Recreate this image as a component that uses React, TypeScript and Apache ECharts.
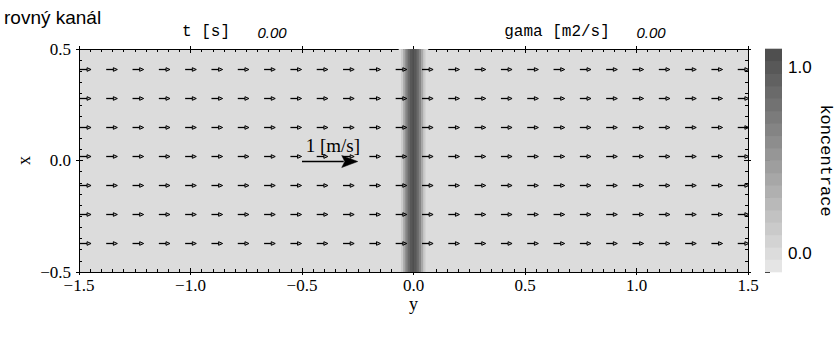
import React, { useEffect, useRef } from 'react';
import * as echarts from 'echarts';

// ---------- texts ----------
const TITLE = 'rovný kanál';
const TIME_LABEL = 't [s]';
const TIME_VALUE = '0.00';
const GAMMA_LABEL = 'gama [m2/s]';
const GAMMA_VALUE = '0.00';
const COLORBAR_NAME = 'koncentrace';
const REF_LABEL = '1 [m/s]';
const H_AXIS_NAME = 'y';
const V_AXIS_NAME = 'x';

// ---------- axes ----------
const hRange = [-1.5, 1.5];
const vRange = [-0.5, 0.5];
const cRange = [-0.1, 1.1];
const colorbarLabelValues = [0.0, 1.0];

// ---------- velocity field (arrow tails) ----------
const arrowColumns = [
  -1.496, -1.378, -1.26, -1.142, -1.024, -0.906, -0.788, -0.67, -0.552, -0.434,
  -0.316, -0.198, -0.08, 0.038, 0.156, 0.274, 0.392, 0.51, 0.628, 0.746,
  0.864, 0.982, 1.1, 1.218, 1.336, 1.454,
];
const arrowRows = [0.409, 0.279, 0.149, 0.019, -0.11, -0.24, -0.369];
const rowSpeeds = [0.2, 0.2, 0.2, 0.2, 0.2, 0.2, 0.2]; // m/s
const refArrowPos = [-0.5, 0.0];
const refArrowSpeed = 1.0; // m/s

// ---------- concentration profile across the channel ----------
const profileY = [-0.06, -0.05, -0.04, -0.03, -0.02, -0.01, 0.0, 0.01, 0.02, 0.03, 0.04, 0.05, 0.06];
const profileC = [0.03, 0.14, 0.38, 0.64, 0.88, 1.02, 1.07, 1.02, 0.88, 0.64, 0.38, 0.14, 0.03];

// ---------- colour bar levels ----------
const levelEdges = [
  -0.1, -0.033, 0.033, 0.1, 0.167, 0.233, 0.3, 0.367, 0.433, 0.5,
  0.567, 0.633, 0.7, 0.767, 0.833, 0.9, 0.967, 1.033, 1.1,
];

const VEL_SCALE = 0.25; // data units per m/s
const SERIF = '"Liberation Serif", serif';
const MONO = '"Liberation Mono", monospace';
const SANS = '"Liberation Sans", sans-serif';

function grayFor(c: number): string {
  let g = Math.round(220 - 132 * c);
  g = Math.max(0, Math.min(255, g));
  return `rgb(${g},${g},${g})`;
}
function levelColor(c: number): string {
  for (let i = 0; i < levelEdges.length - 1; i++) {
    if (c >= levelEdges[i] && c < levelEdges[i + 1]) {
      return grayFor((levelEdges[i] + levelEdges[i + 1]) / 2);
    }
  }
  return c < levelEdges[0] ? grayFor(levelEdges[0]) : grayFor(levelEdges[levelEdges.length - 1]);
}
function fmtNum(v: number): string {
  const s = Math.abs(v).toFixed(1);
  return v < -1e-9 ? '\u2212' + s : s;
}

export default function App() {
  const ref = useRef<HTMLDivElement>(null);
  useEffect(() => {
    if (!ref.current) return;
    const chart = echarts.init(ref.current, null, { renderer: 'svg' });

    const fieldData: number[][] = [];
    arrowRows.forEach((x, r) => {
      arrowColumns.forEach((y) => fieldData.push([y, x, rowSpeeds[r]]));
    });
    const bandData = profileY.map((y, i) => [y, profileC[i]]);
    const barData = levelEdges.slice(0, -1).map((lo, i) => [0.5, lo, levelEdges[i + 1]]);

    const labelStyle = { fontFamily: SERIF, fontSize: 17, color: '#000' };
    const lineStyle = { color: '#000', width: 1 };
    const outerH = (pos: string, showLabel: boolean, extra: any = {}) => ({
      type: 'value', gridIndex: 0, position: pos, min: hRange[0], max: hRange[1], interval: 0.5,
      axisLine: { show: true, onZero: false, lineStyle },
      axisTick: { show: true, inside: false, length: 3, lineStyle },
      axisLabel: { show: showLabel, ...labelStyle, margin: 5, formatter: fmtNum },
      splitLine: { show: false },
      ...extra,
    });
    const outerV = (pos: string, showLabel: boolean, extra: any = {}) => ({
      type: 'value', gridIndex: 0, position: pos, min: vRange[0], max: vRange[1], interval: 0.5,
      axisLine: { show: true, onZero: false, lineStyle },
      axisTick: { show: true, inside: false, length: 3, lineStyle },
      axisLabel: { show: showLabel, ...labelStyle, margin: 8, formatter: fmtNum },
      splitLine: { show: false },
      ...extra,
    });
    const innerAxis = (pos: string, range: number[]) => ({
      type: 'value', gridIndex: 1, position: pos, min: range[0], max: range[1], interval: 0.5,
      axisLine: { show: false, onZero: false },
      axisTick: { show: true, inside: true, length: 4, lineStyle },
      minorTick: { show: true, splitNumber: 10, length: 3, lineStyle: { color: '#000', width: 1 } },
      axisLabel: { show: false },
      splitLine: { show: false },
    });

    chart.setOption({
      animation: false,
      textStyle: { fontFamily: SERIF },
      grid: [
        { left: 79, top: 49, width: 669, height: 223, show: true, backgroundColor: '#dcdcdc', borderWidth: 0 },
        { left: 79, top: 49, width: 669, height: 223 },
        { left: 765, top: 49, width: 17, height: 223 },
      ],
      xAxis: [
        outerH('bottom', true, {
          name: H_AXIS_NAME, nameLocation: 'middle', nameGap: 23, nameMoveOverlap: false,
          nameTextStyle: { fontFamily: SERIF, fontSize: 18, color: '#000' },
        }),
        outerH('top', false),
        innerAxis('bottom', hRange),
        innerAxis('top', hRange),
        { type: 'value', gridIndex: 2, min: 0, max: 1, show: false },
      ],
      yAxis: [
        outerV('left', true, {
          name: V_AXIS_NAME, nameLocation: 'middle', nameGap: 46, nameRotate: 90, nameMoveOverlap: false,
          nameTextStyle: { fontFamily: SERIF, fontSize: 18, color: '#000' },
        }),
        outerV('right', false),
        innerAxis('left', vRange),
        innerAxis('right', vRange),
        {
          type: 'value', gridIndex: 2, position: 'right', min: cRange[0], max: cRange[1], interval: 0.1,
          axisLine: { show: false },
          axisTick: { show: true, inside: false, length: 5, lineStyle },
          axisLabel: {
            fontFamily: SANS, fontSize: 17, color: '#000', margin: 6,
            formatter: (v: number) => {
              const hit = colorbarLabelValues.find((c) => Math.abs(c - v) < 1e-6);
              return hit === undefined ? '' : hit.toFixed(1);
            },
          },
          splitLine: { show: false },
          name: COLORBAR_NAME, nameLocation: 'middle', nameGap: 35, nameRotate: -90,
          nameTextStyle: { fontFamily: MONO, fontSize: 17, color: '#000' },
        },
      ],
      series: [
        {
          type: 'custom', name: 'band', xAxisIndex: 0, yAxisIndex: 0, clip: true,
          data: bandData, encode: { x: 0, y: 1 },
          renderItem: (params: any, api: any) => {
            const y = api.value(0);
            const c = api.value(1);
            const a = api.coord([y - 0.005, vRange[1]]);
            const b = api.coord([y + 0.005, vRange[0]]);
            return {
              type: 'rect',
              shape: { x: a[0] - 0.3, y: a[1], width: b[0] - a[0] + 0.6, height: b[1] - a[1] },
              style: { fill: levelColor(c) },
            };
          },
        },
        {
          type: 'custom', name: 'field', xAxisIndex: 0, yAxisIndex: 0, clip: true,
          data: fieldData, encode: { x: 0, y: 1 },
          renderItem: (params: any, api: any) => {
            const y = api.value(0);
            const x = api.value(1);
            const u = api.value(2);
            const p0 = api.coord([y, x]);
            const p1 = api.coord([y + u * VEL_SCALE, x]);
            const head = 4;
            const hh = 1.8;
            const yy = Math.round(p0[1]) + 0.5;
            return {
              type: 'group',
              children: [
                { type: 'line', shape: { x1: p0[0], y1: yy, x2: p1[0] - head, y2: yy }, style: { stroke: '#000', lineWidth: 1.3 } },
                {
                  type: 'polygon',
                  shape: { points: [[p1[0] - head, yy - hh], [p1[0], yy], [p1[0] - head, yy + hh]] },
                  style: { fill: 'rgba(0,0,0,0.2)', stroke: '#000', lineWidth: 1 },
                },
              ],
            };
          },
        },
        {
          type: 'custom', name: 'reference', xAxisIndex: 0, yAxisIndex: 0, clip: false,
          data: [[refArrowPos[0], refArrowPos[1], refArrowSpeed]], encode: { x: 0, y: 1 },
          renderItem: (params: any, api: any) => {
            const y = api.value(0);
            const x = api.value(1);
            const u = api.value(2);
            const p0 = api.coord([y, x]);
            const p1 = api.coord([y + u * VEL_SCALE, x]);
            const head = 16;
            const hh = 6;
            const yy = Math.round(p0[1]) + 0.5;
            return {
              type: 'group',
              children: [
                { type: 'line', shape: { x1: p0[0], y1: yy, x2: p1[0] - head + 2, y2: yy }, style: { stroke: '#000', lineWidth: 1.3 } },
                {
                  type: 'polygon',
                  shape: { points: [[p1[0] - head, yy - hh], [p1[0], yy], [p1[0] - head, yy + hh], [p1[0] - head + 3, yy]] },
                  style: { fill: '#000', stroke: '#000', lineWidth: 0.5 },
                },
                {
                  type: 'text', x: (p0[0] + p1[0]) / 2 + 3, y: yy - 16,
                  style: { text: REF_LABEL, font: `19px ${SERIF}`, fill: '#000', align: 'center', verticalAlign: 'middle' },
                },
              ],
            };
          },
        },
        {
          type: 'custom', name: 'colorbar', xAxisIndex: 4, yAxisIndex: 4, clip: false,
          data: barData, encode: { x: 0, y: 1 },
          renderItem: (params: any, api: any) => {
            const lo = api.value(1);
            const hi = api.value(2);
            const a = api.coord([0, hi]);
            const b = api.coord([1, lo]);
            return {
              type: 'rect',
              shape: { x: a[0], y: a[1] - 0.3, width: b[0] - a[0], height: b[1] - a[1] + 0.6 },
              style: { fill: grayFor((lo + hi) / 2) },
            };
          },
        },
      ],
      graphic: [
        { type: 'text', x: 4, y: 17, style: { text: TITLE, font: `19px ${SANS}`, fill: '#000', align: 'left', verticalAlign: 'middle' } },
        { type: 'text', x: 206, y: 32, style: { text: TIME_LABEL, font: `16px ${MONO}`, fill: '#000', align: 'center', verticalAlign: 'middle' } },
        { type: 'text', x: 272, y: 32, style: { text: TIME_VALUE, font: `italic 15px ${SANS}`, fill: '#000', align: 'center', verticalAlign: 'middle' } },
        { type: 'text', x: 557, y: 32, style: { text: GAMMA_LABEL, font: `16px ${MONO}`, fill: '#000', align: 'center', verticalAlign: 'middle' } },
        { type: 'text', x: 651, y: 32, style: { text: GAMMA_VALUE, font: `italic 15px ${SANS}`, fill: '#000', align: 'center', verticalAlign: 'middle' } },
      ],
    });
    return () => chart.dispose();
  }, []);
  return <div ref={ref} style={{ position: 'fixed', left: 0, top: 0, width: 839, height: 350, background: '#fff' }} />;
}
